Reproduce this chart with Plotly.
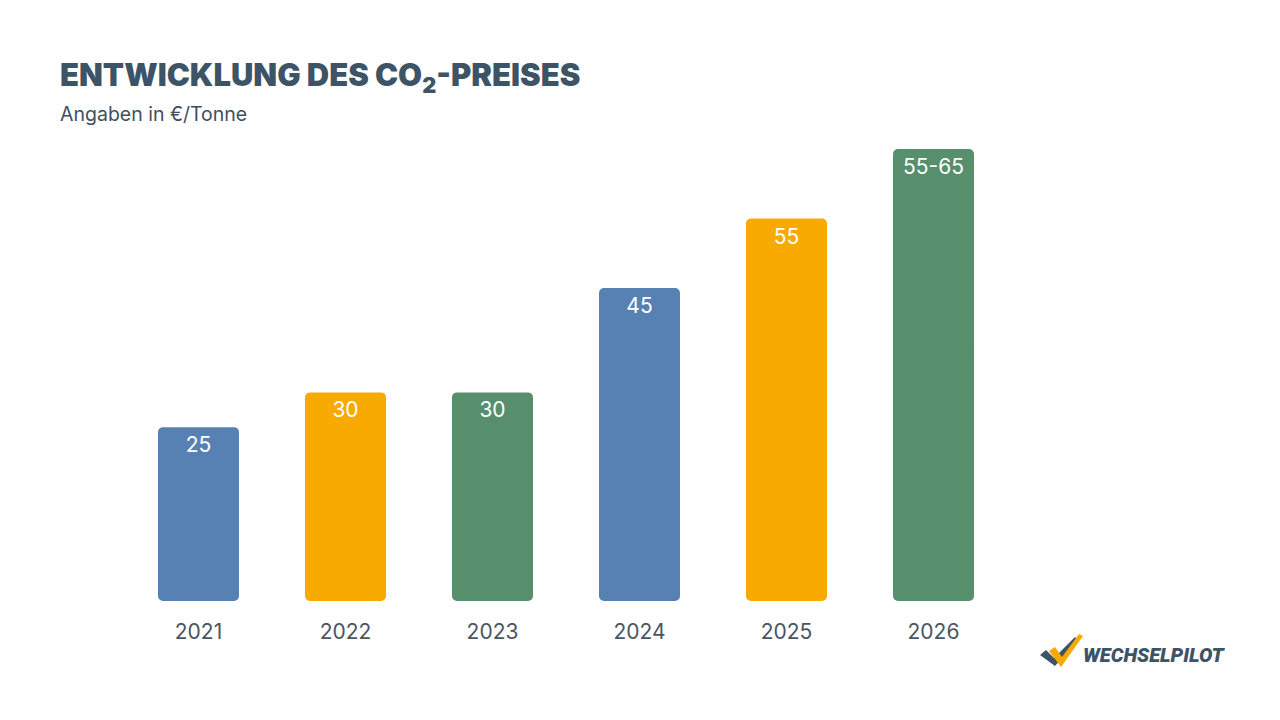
import plotly.graph_objects as go

years = ["2021", "2022", "2023", "2024", "2025", "2026"]
values = [25, 30, 30, 45, 55, 65]
labels = ["25", "30", "30", "45", "55", "55-65"]
colors = ["#5881B3", "#F8AA00", "#578E6B", "#5881B3", "#F8AA00", "#578E6B"]

W, H = 1280, 720
L, R, T, B = 125, 273, 149, 119
PW, PH = W - L - R, H - T - B

def px(x):
    return (x - L) / PW

def py(y):
    return (H - B - y) / PH

half = [v / 2 for v in values]
lower_top = [v / 2 + 4 for v in values]

fig = go.Figure()
# upper part (rounded at the top), carries the label
fig.add_trace(go.Bar(
    x=years, y=[v - h for v, h in zip(values, half)], base=half, text=labels,
    marker=dict(color=colors, line=dict(width=0)),
    textposition="inside", insidetextanchor="end",
    textangle=0,
    textfont=dict(family="Inter", size=21, color="white"),
    hoverinfo="skip",
))
# lower part drawn downwards (rounded at the bottom), overlapping the upper part
fig.add_trace(go.Bar(
    x=years, y=[-t for t in lower_top], base=lower_top,
    marker=dict(color=colors, line=dict(width=0)),
    hoverinfo="skip",
))

fig.update_layout(
    width=W, height=H,
    margin=dict(l=L, r=R, t=T, b=B, pad=0),
    paper_bgcolor="white", plot_bgcolor="white",
    barmode="overlay",
    bargap=0.449, barcornerradius=5,
    showlegend=False,
    uniformtext=dict(minsize=8, mode="show"),
    xaxis=dict(showgrid=False, showline=False, zeroline=False, ticks="",
               tickfont=dict(family="Inter", size=21, color="#4A5562"),
               ticklabelstandoff=16, fixedrange=True),
    yaxis=dict(visible=False, range=[0, 65], fixedrange=True),
)

fig.add_annotation(
    text="ENTWICKLUNG DES CO<sub>2</sub>-PREISES", xref="paper", yref="paper",
    x=px(58), y=py(77), xanchor="left", yanchor="middle", showarrow=False,
    font=dict(family="Inter", size=31, color="#3D5366", weight=900),
)
fig.add_annotation(
    text="Angaben in €/Tonne", xref="paper", yref="paper",
    x=px(58), y=py(114), xanchor="left", yanchor="middle", showarrow=False,
    font=dict(family="Inter", size=19.5, color="#3D4F60"),
)

# Logo
def poly(points, color):
    d = "M " + " L ".join(f"{px(a)},{py(b)}" for a, b in points) + " Z"
    fig.add_shape(type="path", path=d, xref="paper", yref="paper",
                  fillcolor=color, line=dict(width=0), layer="above")

poly([(1040, 655), (1046, 650), (1054, 658), (1075, 637), (1078, 640), (1055, 666)], "#3D5366")
poly([(1049, 651), (1055, 647), (1062, 657), (1079, 634), (1083, 636), (1061, 667)], "#F8AA00")

fig.add_annotation(
    text="<i>WECHSELPILOT</i>", xref="paper", yref="paper",
    x=px(1081), y=py(655), xanchor="left", yanchor="middle", showarrow=False,
    font=dict(family="Roboto", size=20, color="#3D5366", weight=900),
)

fig.write_html("out.html", config={"displayModeBar": False})
